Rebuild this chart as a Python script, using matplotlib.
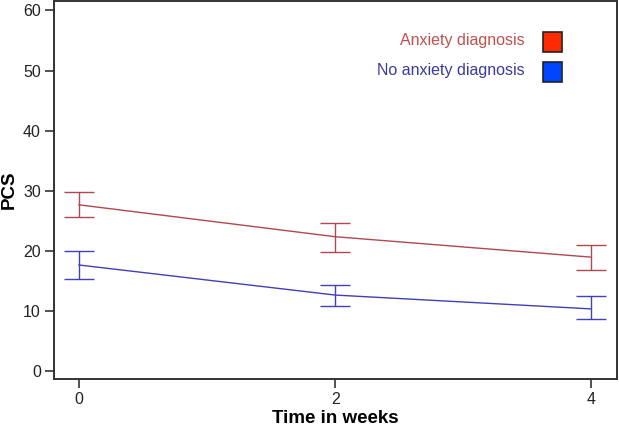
import matplotlib
matplotlib.use("Agg")
import matplotlib.pyplot as plt
from matplotlib.patches import Rectangle

plt.rcParams['font.family'] = ['Liberation Sans', 'DejaVu Sans']

weeks = [0, 2, 4]
anx_mean = [27.7, 22.4, 19.0]
anx_low = [25.6, 19.9, 16.8]
anx_high = [29.9, 24.6, 21.1]
noanx_mean = [17.7, 12.7, 10.4]
noanx_low = [15.4, 10.9, 8.7]
noanx_high = [20.1, 14.4, 12.5]
yticks = [0, 10, 20, 30, 40, 50, 60]
labels = ["Anxiety diagnosis", "No anxiety diagnosis"]

red_line = "#B04850"
blue_line = "#4040B8"
red_text = "#C0504D"
blue_text = "#3A3A9C"
red_box = "#FF2A00"
blue_box = "#0044FF"

fig = plt.figure(figsize=(6.19, 4.30), dpi=100)
ax = fig.add_axes([0.0872, 0.1193, 0.9096, 0.8787])

for mean, lo, hi, col in [(anx_mean, anx_low, anx_high, red_line),
                          (noanx_mean, noanx_low, noanx_high, blue_line)]:
    yerr = [[m - l for m, l in zip(mean, lo)], [h - m for m, h in zip(mean, hi)]]
    ax.errorbar(weeks, mean, yerr=yerr, color=col, lw=1.0, elinewidth=1.0,
                capsize=11, capthick=1.0)

ax.set_xlim(-0.195, 4.2)
ax.set_ylim(-1.2, 61.6)
ax.set_xticks(weeks)
ax.set_yticks(yticks)
ax.tick_params(axis='both', direction='out', length=6.5, width=1.2, color='#333333',
               labelsize=11.5, labelcolor='#222222', pad=3)
for s in ax.spines.values():
    s.set_linewidth(1.4)
    s.set_color('#333333')

ax.set_xlabel("Time in weeks", fontsize=13.5, fontweight='bold', labelpad=2)
ax.set_ylabel("PCS", fontsize=13.5, fontweight='bold', labelpad=4)

# legend
ax.text(525 / 619, 1 - 41 / 430, labels[0], transform=fig.transFigure,
        ha='right', va='center', fontsize=11.5, color=red_text)
ax.text(525 / 619, 1 - 70 / 430, labels[1], transform=fig.transFigure,
        ha='right', va='center', fontsize=11.5, color=blue_text)
for yc, fc in [(42, red_box), (72, blue_box)]:
    fig.patches.append(Rectangle((543 / 619, 1 - (yc + 10) / 430), 19 / 619, 20 / 430,
                                 transform=fig.transFigure, facecolor=fc,
                                 edgecolor='#222222', lw=1.2))

fig.savefig("out.png", dpi=100)
